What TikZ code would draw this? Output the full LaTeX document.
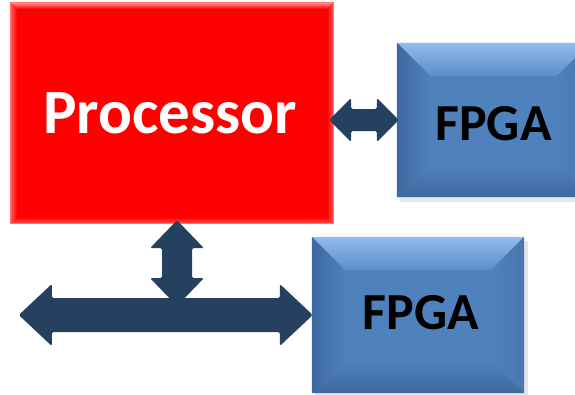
\documentclass[tikz,border=0pt]{standalone}
\usepackage{fontspec}
\setmainfont{Carlito}
\usetikzlibrary{calc}
\definecolor{arrowblue}{RGB}{38,64,96}
\definecolor{fpgablue}{RGB}{79,129,189}
\definecolor{fpgalight}{RGB}{145,188,238}
\definecolor{fpgatopin}{RGB}{92,142,202}
\definecolor{fpgadark}{RGB}{62,104,158}
\definecolor{fpgamid}{RGB}{72,118,174}
\newcommand\mybevel[8]{% name, d, top-outer, top-inner, bottom-outer, left-outer, right-outer, inner
  \shade[top color=#3,bottom color=#4] (#1.north west) -- (#1.north east) -- ($(#1.north east)+(-#2,#2)$) -- ($(#1.north west)+(#2,#2)$) -- cycle;
  \shade[bottom color=#5,top color=#8] (#1.south west) -- (#1.south east) -- ($(#1.south east)+(-#2,-#2)$) -- ($(#1.south west)+(#2,-#2)$) -- cycle;
  \shade[left color=#6,right color=#8] (#1.north west) -- (#1.south west) -- ($(#1.south west)+(#2,-#2)$) -- ($(#1.north west)+(#2,#2)$) -- cycle;
  \shade[right color=#7,left color=#8] (#1.north east) -- (#1.south east) -- ($(#1.south east)+(-#2,-#2)$) -- ($(#1.north east)+(-#2,#2)$) -- cycle;
}
\begin{document}
\begin{tikzpicture}[x=1pt,y=-1pt,
  procbox/.style={fill=red, minimum width=322pt, minimum height=220pt, inner sep=0pt},
  fpgabox/.style={fill=fpgablue, inner sep=0pt},
  fpgatext/.style={text=black, font=\bfseries\fontsize{52}{60}\selectfont},
  proctext/.style={text=white, font=\bfseries\fontsize{63}{70}\selectfont},
  busarrow/.style={fill=arrowblue, rounded corners=1.5pt}]
\useasboundingbox (0,0) rectangle (575,394);
% shadows
\fill[black!10] (400,47) rectangle (594,202);
\fill[black!10] (315,241) rectangle (528,397);
% boxes
\node[fpgabox, minimum width=193pt, minimum height=154pt] (fpga1) at (493.5,120) {};
\mybevel{fpga1}{33}{fpgalight}{fpgatopin}{fpgadark}{fpgadark}{fpgamid}{fpgablue}
\node[fpgatext] (l1) at ($(fpga1.center)+(0,4)$) {FPGA};
\node[fpgabox, minimum width=212pt, minimum height=156pt] (fpga2) at (418,315) {};
\mybevel{fpga2}{33}{fpgalight}{fpgatopin}{fpgadark}{fpgadark}{fpgamid}{fpgablue}
\node[fpgatext] (l2) at ($(fpga2.center)+(3,-2)$) {FPGA};
\node[procbox] (proc) at (172,113) {};
\mybevel{proc}{6}{red!45!white}{red}{red!70!white}{red!65!white}{red!65!white}{red}
\node[proctext] (l0) at ($(proc.center)+(-2,0)$) {Processor};
\draw[red!55!white, line width=1pt] (proc.north west) rectangle (proc.south east);
% arrow processor <-> fpga1
\coordinate (t1) at ($(proc.east |- fpga1.west)+(-4,0)$);
\coordinate (t2) at ($(fpga1.west)+(2,0)$);
\fill[busarrow] (t1) -- ++(22,-22) -- ++(0,11) -- ($(t2)+(-22,-11)$) -- ++(0,-11) -- (t2)
  -- ++(-22,22) -- ++(0,-11) -- ($(t1)+(22,11)$) -- ++(0,11) -- cycle;
% bus
\coordinate (b2) at ($(fpga2.west)+(1,0)$);
\coordinate (b1) at ($(b2)+(-294,0)$);
\coordinate (v1) at ($(proc.south)+(5,-3)$);
\coordinate (v2) at ($(v1 |- b1)+(0,-9)$);
\fill[busarrow] (v1) -- ++(27,28) -- ++(-12,0) -- ($(v2)+(15,-28)$) -- ++(12,0) -- (v2)
  -- ++(-27,-28) -- ++(12,0) -- ($(v1)+(-15,28)$) -- ++(-12,0) -- cycle;
\fill[busarrow] (b1) -- ++(33,-31) -- ++(0,14) -- ($(b2)+(-33,-17)$) -- ++(0,-14) -- (b2)
  -- ++(-33,31) -- ++(0,-14) -- ($(b1)+(33,17)$) -- ++(0,14) -- cycle;
\end{tikzpicture}
\end{document}
